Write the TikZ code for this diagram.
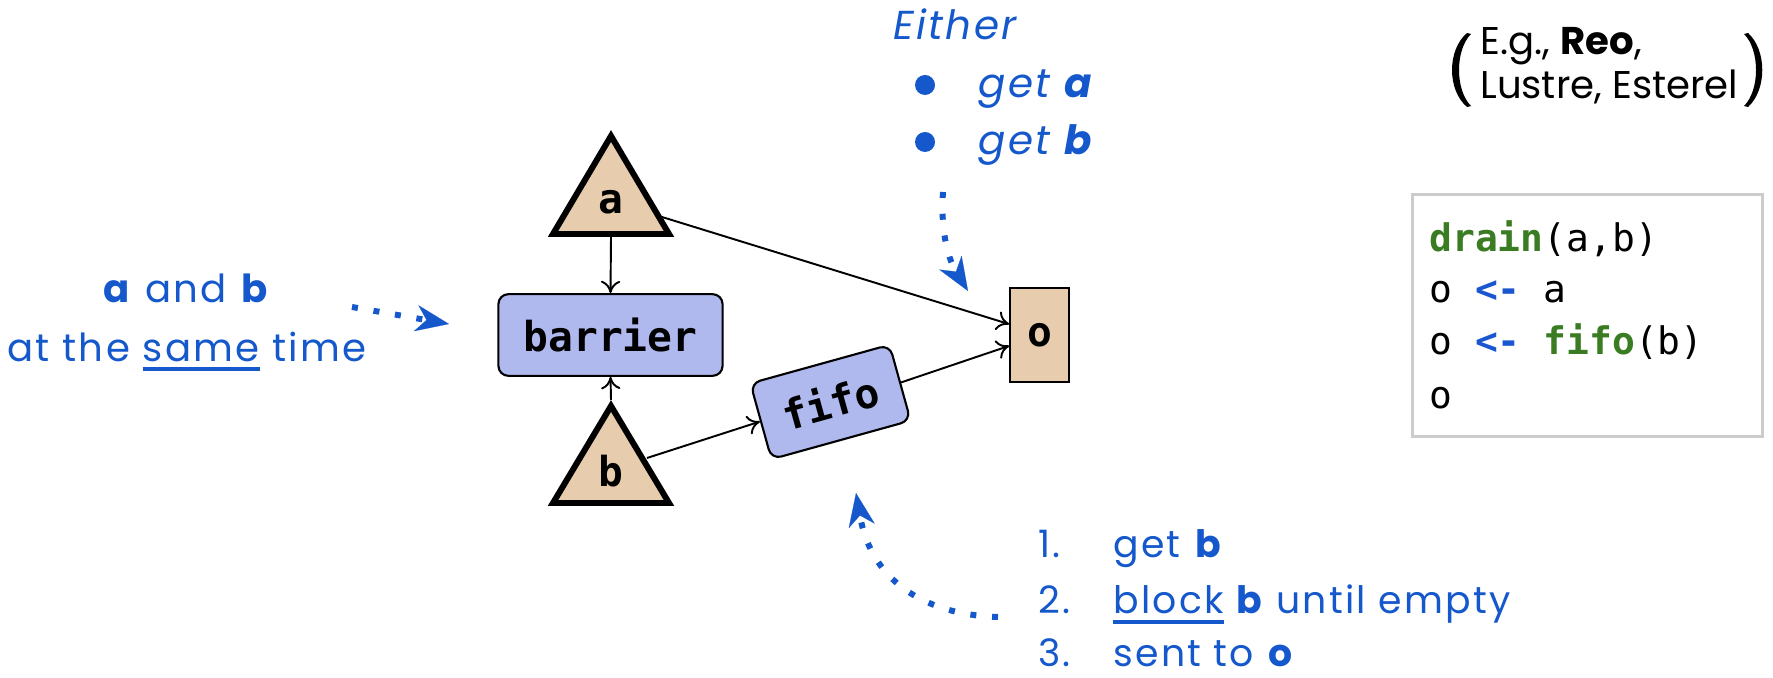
\documentclass[tikz,border=0pt]{standalone}
\usepackage{fontspec}
\setmainfont{Poppins}
\setmonofont{DejaVu Sans Mono}
\newfontfamily\hand[LetterSpace=6]{Poppins}
\usetikzlibrary{arrows.meta}
\definecolor{tanfill}{HTML}{E8CCAE}
\definecolor{lav}{HTML}{B0B9EE}
\definecolor{hblue}{HTML}{1458CC}
\definecolor{cgreen}{HTML}{3A7C22}
\definecolor{cblue}{HTML}{1A56D0}
\definecolor{boxgray}{HTML}{CCCCCC}
\newcommand\myul[2][-5pt]{\setbox0=\hbox{#2}\rlap{\rule[#1]{\wd0}{2.3pt}}\box0\relax}
\tikzset{
  tri/.style={draw=black, line width=3.4pt, fill=tanfill, line join=miter},
  procbox/.style={draw=black, line width=1.2pt, fill=lav, rounded corners=5.7pt,
    font=\ttfamily\bfseries\fontsize{23.5}{28}\selectfont, inner sep=0pt},
  lbl/.style={font=\ttfamily\bfseries\fontsize{23.5}{28}\selectfont, inner sep=0pt},
  conn/.style={line width=1.1pt, -{To[length=7pt,width=11pt]}},
  hint/.style={hblue, line width=3.4pt, dash pattern=on 3.4pt off 9pt,
    -{Stealth[length=19pt,width=15pt,inset=6pt,line width=0.1pt]}},
  hL/.style={hblue, font=\hand\fontsize{22}{26}\selectfont, inner sep=0pt},
  hT/.style={hblue, font=\hand\itshape\fontsize{23}{27}\selectfont, inner sep=0pt, anchor=base west},
  hB/.style={hblue, font=\hand\fontsize{21.5}{25}\selectfont, inner sep=0pt, anchor=base west},
  code/.style={font=\ttfamily\fontsize{21.6}{26}\selectfont, inner sep=0pt, anchor=base west},
  eg/.style={font=\fontsize{22}{26}\selectfont, inner sep=0pt, anchor=base west}
}
\begin{document}
\begin{tikzpicture}[x=0.02cm,y=-0.02cm]
\useasboundingbox (0,0) rectangle (1773,678);

% triangles
\coordinate (aTop) at (611,136);
\coordinate (aBase) at (611,237);
\coordinate (aR) at (662,217);
\draw[tri] (aTop) -- (669,234) -- (553,234) -- cycle;
\node[lbl] (a) at (611,202) {a};

\coordinate (bTop) at (611,400);
\coordinate (bR) at (647,458);
\draw[tri] (611,406) -- (669,503) -- (553,503) -- cycle;
\node[lbl] (b) at (611,471) {b};

% boxes
\node[procbox, minimum width=127.6pt, minimum height=46.5pt] (barrier) at (610.5,335) {barrier};
\node[draw=black, line width=1.2pt, fill=tanfill, minimum width=33.4pt, minimum height=53.3pt,
      font=\ttfamily\bfseries\fontsize{23.5}{28}\selectfont, inner sep=0pt] (o) at (1039.5,335) {o};
\node[procbox, rotate=15.5, minimum width=82.2pt, minimum height=44.8pt] (fifo) at (830.5,402) {fifo};

% connectors
\draw[conn] (aBase) -- (barrier.north);
\draw[conn] (bTop) -- (barrier.south);
\draw[conn] (aR) -- ([yshift=6.2pt]o.west);
\draw[conn] (bR) -- (fifo.west);
\draw[conn] (fifo.east) -- ([yshift=-6.2pt]o.west);

% left annotation
\node[hL, anchor=base] (ab1) at (187,303) {\textbf{a} and \textbf{b}};
\node[hL, anchor=base] (ab2) at (187,362) {at the \myul{same} time};
\coordinate (s1a) at (352,307);
\coordinate (s1b) at (449,324);
\draw[hint] (s1a) -- (s1b);

% top annotation
\node[hT] (either) at (893,40) {Either};
\fill[hblue] (925,85) circle[radius=10];
\fill[hblue] (925,142) circle[radius=10];
\node[hT] (geta) at (978,98) {get \textbf{a}};
\node[hT] (getb) at (978,155) {get \textbf{b}};
\coordinate (t1a) at (943,192);
\coordinate (t1b) at (968,291);
\draw[hint] (t1a) .. controls (940,235) and (950,262) .. (t1b);

% bottom annotation
\node[hB] (n1) at (1038,557) {1.};
\node[hB] (l1) at (1113,557) {get \textbf{b}};
\node[hB] (n2) at (1038,613) {2.};
\node[hB] (l2) at (1113,613) {\myul[-6pt]{block} \textbf{b} until empty};
\node[hB] (n3) at (1038,666) {3.};
\node[hB] (l3) at (1113,666) {sent to \textbf{o}};
\coordinate (u1a) at (998,617);
\coordinate (u1b) at (856,493);
\draw[hint] (u1a) .. controls (930,615) and (872,585) .. (u1b);

% E.g. note
\node[eg] (eg1) at (1480,55) {E.g., \textbf{Reo},};
\node[eg] (eg2) at (1480,99) {Lustre, Esterel};
\fill (1467,33) .. controls (1447,50) and (1447,90) .. (1467,107) -- (1471,106)
      .. controls (1455,90) and (1455,50) .. (1471,34) -- cycle;
\fill (1748,33) .. controls (1767,50) and (1767,90) .. (1748,107) -- (1744,106)
      .. controls (1760,90) and (1760,50) .. (1744,34) -- cycle;

% code box
\node[draw=boxgray, line width=1.7pt, minimum width=199.6pt, minimum height=137.2pt, inner sep=0pt] (codebox) at (1587.5,315.5) {};
\node[code] (c1) at (1429,252) {\textcolor{cgreen}{\bfseries drain}(a,b)};
\node[code] (c2) at (1429,303) {o \textcolor{cblue}{\bfseries <-} a};
\node[code] (c3) at (1429,355) {o \textcolor{cblue}{\bfseries <-} \textcolor{cgreen}{\bfseries fifo}(b)};
\node[code] (c4) at (1429,408) {o};
\end{tikzpicture}
\end{document}
